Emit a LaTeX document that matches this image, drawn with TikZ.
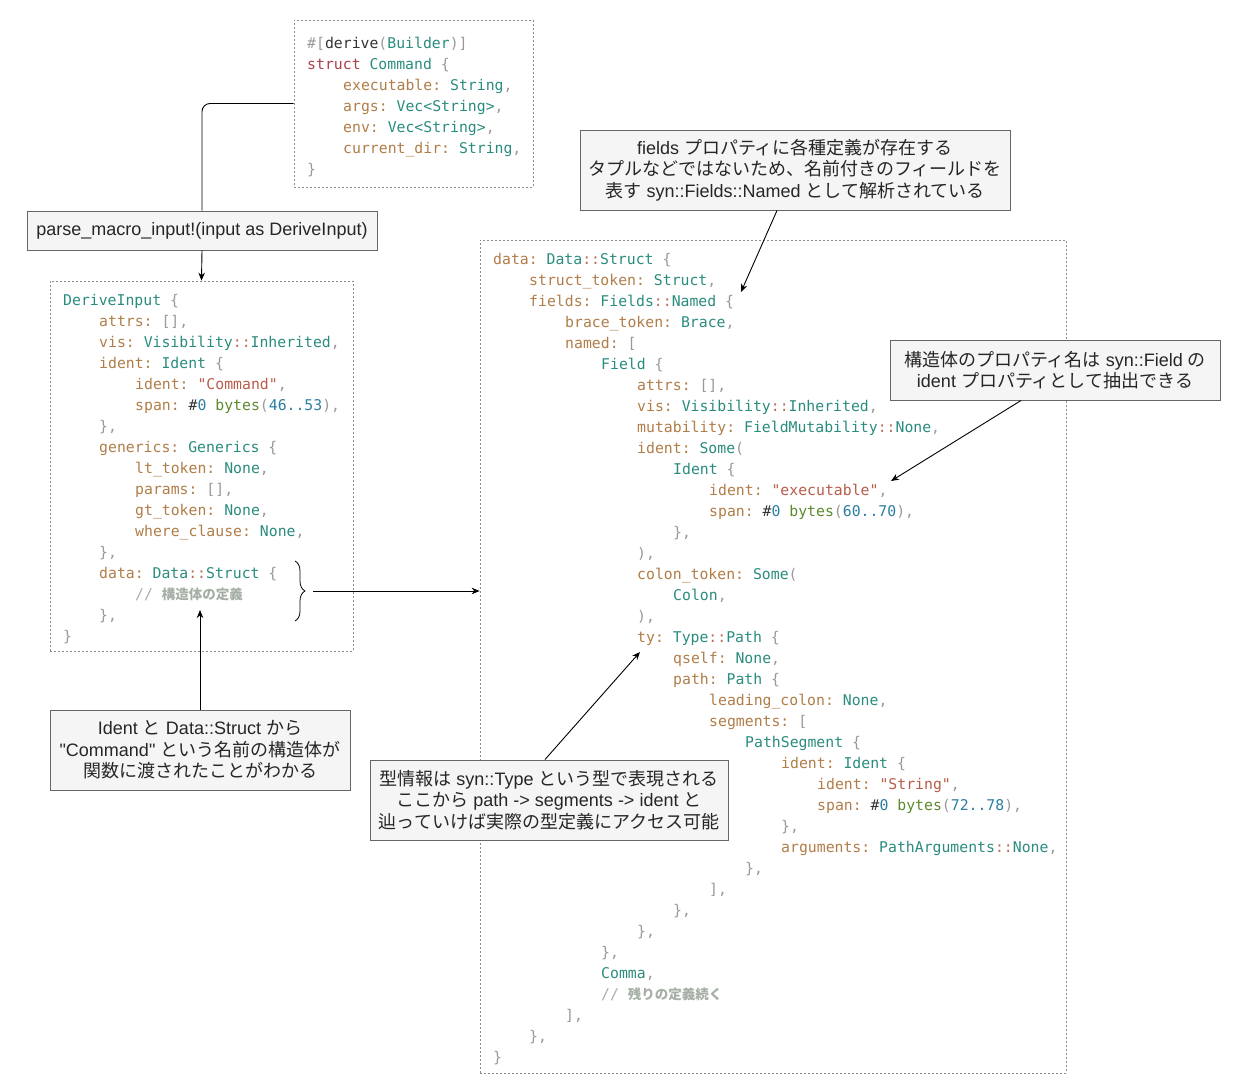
\documentclass[tikz,border=0pt]{standalone}
\usepackage{fontspec}
\setmainfont{Liberation Sans}[Ligatures=TeXOff]
\setmonofont{DejaVu Sans Mono}
\newfontfamily\jp{Noto Sans CJK JP}
\usetikzlibrary{arrows.meta,decorations.pathreplacing}

\definecolor{codeplain}{HTML}{333333}
\definecolor{codekey}{HTML}{B07D48}
\definecolor{codetype}{HTML}{2A8C7E}
\definecolor{codepunct}{HTML}{999999}
\definecolor{codecolons}{HTML}{B86E5A}
\definecolor{codestr}{HTML}{B85C4A}
\definecolor{codenum}{HTML}{2C7EA0}
\definecolor{codefn}{HTML}{5C8A2E}
\definecolor{codekw}{HTML}{A8404C}
\definecolor{codecomment}{HTML}{A6AFA6}
\definecolor{notefill}{HTML}{F5F5F5}
\definecolor{notedraw}{HTML}{666666}

% code colouring
\newcommand\ckey[1]{\textcolor{codekey}{#1:}}
\newcommand\ctype[1]{\textcolor{codetype}{#1}}
\newcommand\cpun[1]{\textcolor{codepunct}{#1}}
\newcommand\ccolons{\textcolor{codecolons}{::}}
\newcommand\cstr[1]{\textcolor{codestr}{#1}}
\newcommand\cnum[1]{\textcolor{codenum}{#1}}
\newcommand\cfn[1]{\textcolor{codefn}{#1}}
\newcommand\ckw[1]{\textcolor{codekw}{#1}}
\newcommand\ccomment[1]{\textcolor{codecomment}{// {\jp\bfseries\fontsize{13.5}{21}\selectfont #1}}}
\newcommand\lvl[1]{\hspace*{#1\dimexpr36pt\relax}}

\tikzset{
    codebox/.style={draw=black!45, dash pattern=on 2pt off 2pt, line width=0.7pt},
    codetext/.style={inner sep=0pt, align=left, text=codeplain,
        font=\ttfamily\fontsize{14.8}{21}\selectfont},
    note/.style={draw=notedraw, fill=notefill, line width=1pt, align=center,
        inner sep=0pt, text=black!85, font=\fontsize{18}{21.5}\selectfont},
    link/.style={-{Stealth[length=8pt,width=6.5pt]}, line width=0.9pt},
}

\begin{document}
\begin{tikzpicture}[x=1pt, y=-1pt]
    \useasboundingbox (0,0) rectangle (1251,1081);

    % dashed code boxes
    \node[codebox, minimum width=239, minimum height=167] (cmd) at (413.5,103.5) {};
    \node[codebox, minimum width=303, minimum height=370] (derive) at (201.5,466) {};
    \node[codebox, minimum width=586, minimum height=833] (data) at (773,656.5) {};

    \node[codetext, anchor=north west] (cmdCode) at (307,33.3) {\strut
        \cpun{\#[}derive\cpun{(}\ctype{Builder}\cpun{)]}\\
        \ckw{struct} \ctype{Command} \cpun{\{}\\
        \lvl1\ckey{executable} \ctype{String}\cpun{,}\\
        \lvl1\ckey{args} \ctype{Vec<String>}\cpun{,}\\
        \lvl1\ckey{env} \ctype{Vec<String>}\cpun{,}\\
        \lvl1\ckey{current\_dir} \ctype{String}\cpun{,}\\
        \cpun{\}}};

    \node[codetext, anchor=north west] (deriveCode) at (63,290.3) {\strut
        \ctype{DeriveInput} \cpun{\{}\\
        \lvl1\ckey{attrs} \cpun{[],}\\
        \lvl1\ckey{vis} \ctype{Visibility}\ccolons\ctype{Inherited}\cpun{,}\\
        \lvl1\ckey{ident} \ctype{Ident} \cpun{\{}\\
        \lvl2\ckey{ident} \cstr{"Command"}\cpun{,}\\
        \lvl2\ckey{span} \#\cnum{0} \cfn{bytes}\cpun{(}\cnum{46..53}\cpun{),}\\
        \lvl1\cpun{\},}\\
        \lvl1\ckey{generics} \ctype{Generics} \cpun{\{}\\
        \lvl2\ckey{lt\_token} \ctype{None}\cpun{,}\\
        \lvl2\ckey{params} \cpun{[],}\\
        \lvl2\ckey{gt\_token} \ctype{None}\cpun{,}\\
        \lvl2\ckey{where\_clause} \ctype{None}\cpun{,}\\
        \lvl1\cpun{\},}\\
        \lvl1\ckey{data} \ctype{Data}\ccolons\ctype{Struct} \cpun{\{}\\
        \lvl2\ccomment{構造体の定義}\\
        \lvl1\cpun{\},}\\
        \cpun{\}}};

    \node[codetext, anchor=north west] (dataCode) at (493,249.3) {\strut
        \ckey{data} \ctype{Data}\ccolons\ctype{Struct} \cpun{\{}\\
        \lvl1\ckey{struct\_token} \ctype{Struct}\cpun{,}\\
        \lvl1\ckey{fields} \ctype{Fields}\ccolons\ctype{Named} \cpun{\{}\\
        \lvl2\ckey{brace\_token} \ctype{Brace}\cpun{,}\\
        \lvl2\ckey{named} \cpun{[}\\
        \lvl3\ctype{Field} \cpun{\{}\\
        \lvl4\ckey{attrs} \cpun{[],}\\
        \lvl4\ckey{vis} \ctype{Visibility}\ccolons\ctype{Inherited}\cpun{,}\\
        \lvl4\ckey{mutability} \ctype{FieldMutability}\ccolons\ctype{None}\cpun{,}\\
        \lvl4\ckey{ident} \ctype{Some}\cpun{(}\\
        \lvl5\ctype{Ident} \cpun{\{}\\
        \lvl6\ckey{ident} \cstr{"executable"}\cpun{,}\\
        \lvl6\ckey{span} \#\cnum{0} \cfn{bytes}\cpun{(}\cnum{60..70}\cpun{),}\\
        \lvl5\cpun{\},}\\
        \lvl4\cpun{),}\\
        \lvl4\ckey{colon\_token} \ctype{Some}\cpun{(}\\
        \lvl5\ctype{Colon}\cpun{,}\\
        \lvl4\cpun{),}\\
        \lvl4\ckey{ty} \ctype{Type}\ccolons\ctype{Path} \cpun{\{}\\
        \lvl5\ckey{qself} \ctype{None}\cpun{,}\\
        \lvl5\ckey{path} \ctype{Path} \cpun{\{}\\
        \lvl6\ckey{leading\_colon} \ctype{None}\cpun{,}\\
        \lvl6\ckey{segments} \cpun{[}\\
        \lvl7\ctype{PathSegment} \cpun{\{}\\
        \lvl8\ckey{ident} \ctype{Ident} \cpun{\{}\\
        \lvl9\ckey{ident} \cstr{"String"}\cpun{,}\\
        \lvl9\ckey{span} \#\cnum{0} \cfn{bytes}\cpun{(}\cnum{72..78}\cpun{),}\\
        \lvl8\cpun{\},}\\
        \lvl8\ckey{arguments} \ctype{PathArguments}\ccolons\ctype{None}\cpun{,}\\
        \lvl7\cpun{\},}\\
        \lvl6\cpun{],}\\
        \lvl5\cpun{\},}\\
        \lvl4\cpun{\},}\\
        \lvl3\cpun{\},}\\
        \lvl3\ctype{Comma}\cpun{,}\\
        \lvl3\ccomment{残りの定義続く}\\
        \lvl2\cpun{],}\\
        \lvl1\cpun{\},}\\
        \cpun{\}}};

    % notes
    \node[note, minimum width=350, minimum height=39] (parse) at (202,230.5)
        {parse\_macro\_input!(input as DeriveInput)};
    \node[note, minimum width=430, minimum height=80] (fieldsNote) at (795,170)
        {fields {\jp プロパティに各種定義が存在する}\\
         {\jp タプルなどではないため、名前付きのフィールドを}\\
         {\jp 表す} syn::Fields::Named {\jp として解析されている}};
    \node[note, minimum width=330, minimum height=60] (structNote) at (1055,370)
        {{\jp 構造体のプロパティ名は} syn::Field {\jp の}\\
         ident {\jp プロパティとして抽出できる}};
    \node[note, minimum width=300, minimum height=80] (identNote) at (200,750)
        {Ident {\jp と} Data::Struct {\jp から}\\
         "Command" {\jp という名前の構造体が}\\
         {\jp 関数に渡されたことがわかる}};
    \node[note, minimum width=358, minimum height=80] (typeNote) at (549,800)
        {{\jp 型情報は} syn::Type {\jp という型で表現される}\\
         {\jp ここから} path -> segments -> ident {\jp と}\\
         {\jp 辿っていけば実際の型定義にアクセス可能}};

    % connectors
    \draw[line width=0.9pt, rounded corners=8pt] (cmd.west) -| (parse.north);
    \draw[link] (parse.south) -- (derive.north);

    \coordinate (dataComment) at (200,610);
    \draw[link] (identNote.north) -- (dataComment);

    \draw[decorate, decoration={brace, amplitude=10pt}, line width=0.8pt] (295,561) -- (295,621);
    \coordinate (braceTip) at (313,591);
    \draw[link] (braceTip) -- (braceTip -| data.west);

    \coordinate (fieldsTip) at (741,292);
    \draw[link] ([xshift=-18pt]fieldsNote.south) -- (fieldsTip);
    \coordinate (identTip) at (891,481);
    \draw[link] ([xshift=-34pt]structNote.south) -- (identTip);
    \coordinate (tyTip) at (640,652);
    \draw[link] ([xshift=-4pt]typeNote.north) -- (tyTip);
\end{tikzpicture}
\end{document}
